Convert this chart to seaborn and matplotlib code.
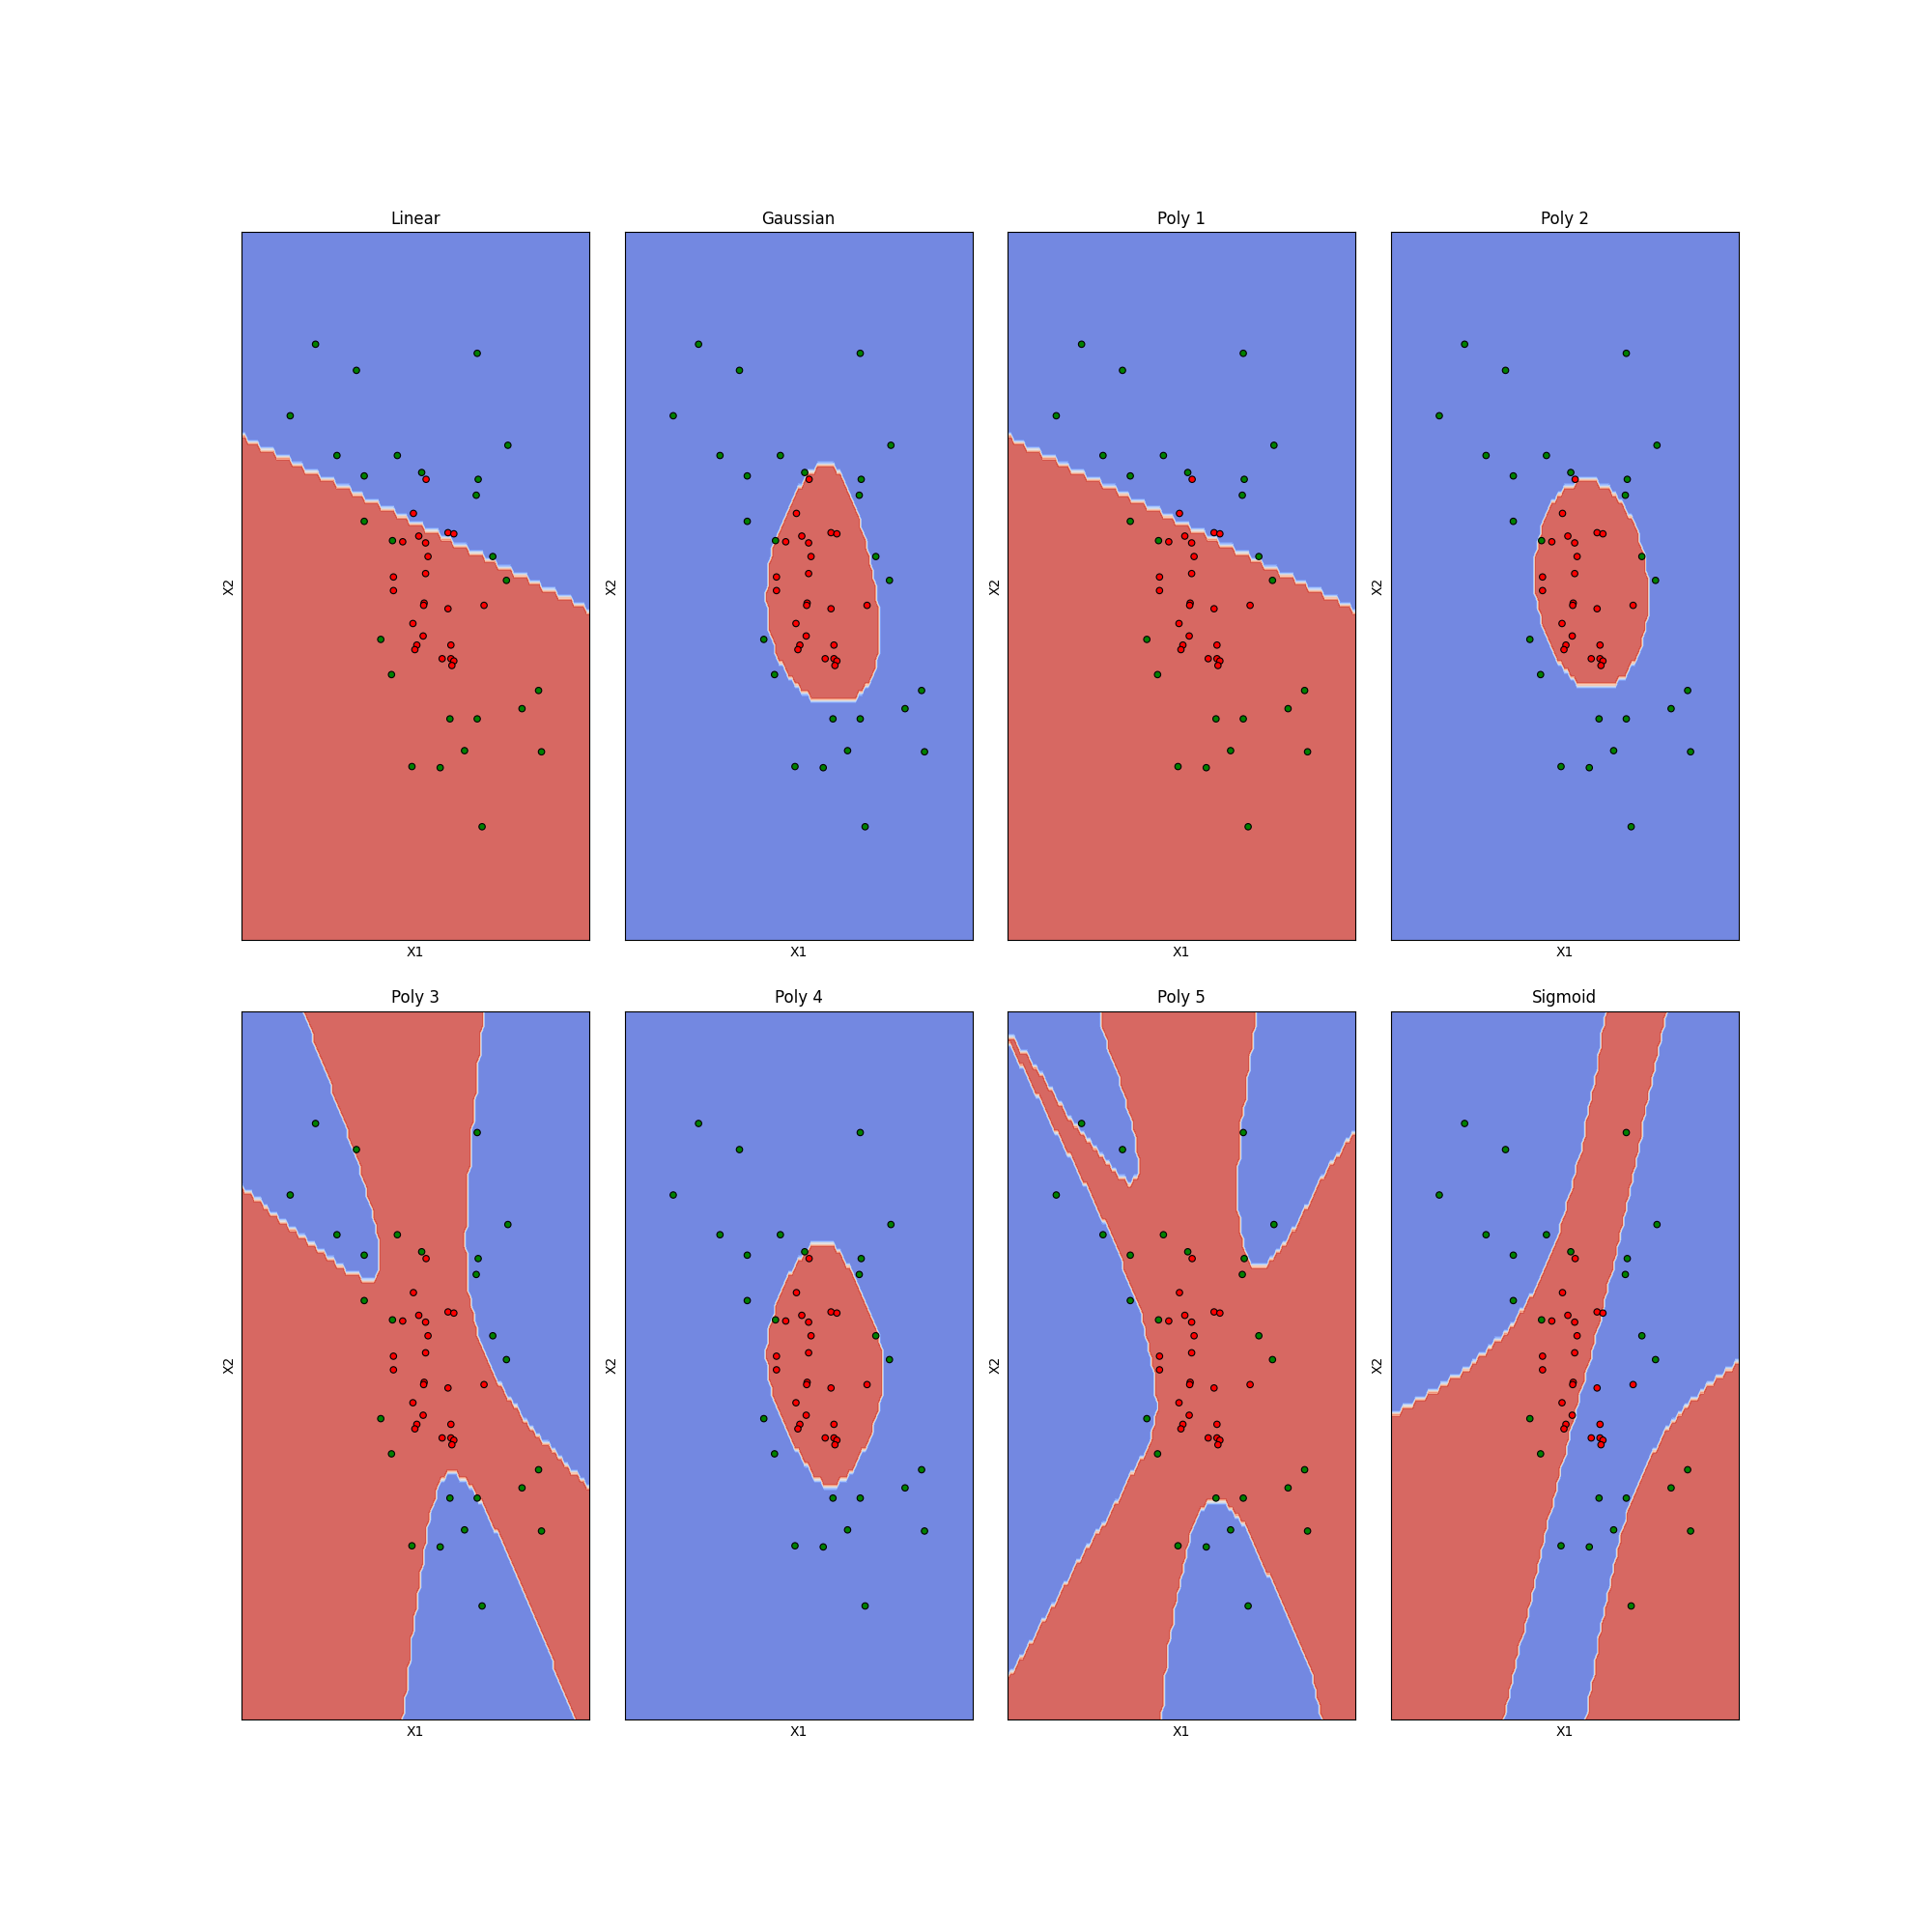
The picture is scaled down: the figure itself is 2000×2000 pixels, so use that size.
import numpy as np
import matplotlib
matplotlib.use("Agg")
import matplotlib.pyplot as plt
import seaborn as sns

# --- training points (X1, X2) ---
green_x1 = [-2.07, -1.23, 1.25, -2.59, -1.63, -0.39, 1.88, -1.07, 0.11, 1.27, 1.23, -1.07, -0.49,
            1.57, 1.85, -0.73, -0.51, 2.51, 2.17, 0.69, 1.25, 0.99, 2.57, -0.09, 0.49, 1.35]
green_x2 = [2.13, 1.90, 2.05, 1.50, 1.15, 1.15, 1.24, 0.97, 1.00, 0.94, 0.80, 0.57, 0.40,
            0.26, 0.05, -0.47, -0.78, -0.92, -1.08, -1.17, -1.17, -1.45, -1.46, -1.59, -1.60, -2.12]
red_x1 = [0.20, -0.06, 0.65, 0.77, 0.05, -0.28, 0.19, 0.24, 0.19, -0.47, -0.47, 0.16,
          0.15, 0.65, 1.39, -0.07, 0.14, 0.01, -0.03, 0.71, 0.53, 0.71, 0.77, 0.73]
red_x2 = [0.94, 0.64, 0.47, 0.46, 0.44, 0.39, 0.38, 0.26, 0.11, 0.08, -0.04, -0.15,
          -0.17, -0.20, -0.17, -0.33, -0.44, -0.52, -0.56, -0.52, -0.64, -0.64, -0.66, -0.70]

# --- decision boundaries (red class on the right of travel) ---
linear_x1 = [-3.6, 0.0, 3.6]
linear_x2 = [1.32, 0.55, -0.22]

gauss_x1 = [0.23, 0.77, 1.15, 1.30, 1.40, 1.47, 1.53, 1.67, 1.67, 1.53, 1.40, 1.07, 0.38, 0.07,
            -0.20, -0.50, -0.63, -0.67, -0.60, -0.50, -0.37, -0.13, 0.03]
gauss_x2 = [1.02, 1.00, 0.68, 0.48, 0.34, 0.10, -0.06, -0.34, -0.54, -0.70, -0.86, -1.00, -1.00, -0.90,
            -0.82, -0.54, -0.26, -0.12, 0.18, 0.38, 0.54, 0.74, 0.88]

poly2_x1 = [0.10, 0.77, 1.00, 1.20, 1.40, 1.59, 1.67, 1.67, 1.67, 1.57, 1.40, 1.27, 1.00, 0.37,
            0.00, -0.33, -0.50, -0.57, -0.60, -0.57, -0.47, -0.33, -0.13]
poly2_x2 = [0.88, 0.88, 0.82, 0.68, 0.50, 0.36, 0.22, -0.02, -0.34, -0.48, -0.62, -0.74, -0.88, -0.88,
            -0.74, -0.50, -0.34, -0.18, 0.02, 0.38, 0.54, 0.70, 0.82]

poly3_a_x1 = [-3.6, -3.2, -2.8, -2.4, -2.0, -1.6, -1.33, -0.83, -0.80, -0.80, -0.93, -1.07, -1.23,
              -1.47, -1.60, -1.83, -2.03, -2.27, -2.30]
poly3_a_x2 = [1.58, 1.46, 1.28, 1.14, 1.02, 0.90, 0.82, 0.82, 0.98, 1.18, 1.38, 1.62, 1.82,
              2.06, 2.28, 2.54, 2.78, 3.02, 3.14]
poly3_b_x1 = [1.39, 1.37, 1.23, 1.17, 1.13, 1.03, 1.01, 1.01, 1.13, 1.37, 1.73, 2.07, 2.40, 2.80, 3.20, 3.60]
poly3_b_x2 = [3.14, 2.86, 2.62, 2.30, 1.94, 1.54, 1.14, 0.74, 0.54, 0.18, -0.14, -0.38, -0.58, -0.78,
              -0.94, -1.08]
poly3_c_x1 = [3.27, 3.07, 2.73, 2.40, 2.07, 1.73, 1.40, 1.13, 0.97, 0.70, 0.47, 0.27, 0.13, 0.03,
              -0.07, -0.13, -0.20, -0.27]
poly3_c_x2 = [-3.14, -2.86, -2.54, -2.22, -1.90, -1.58, -1.26, -1.08, -0.99, -0.99, -1.14, -1.42,
              -1.66, -1.94, -2.22, -2.58, -2.86, -3.14]

poly4_x1 = [0.33, 0.53, 0.80, 1.17, 1.47, 1.67, 1.73, 1.63, 1.47, 1.27, 1.07, 0.80, 0.67, 0.53,
            0.30, 0.13, -0.07, -0.27, -0.47, -0.60, -0.67, -0.63, -0.53, -0.40, -0.27, 0.03, 0.20]
poly4_x2 = [1.08, 1.08, 0.98, 0.74, 0.46, 0.10, -0.14, -0.34, -0.58, -0.80, -0.92, -1.00, -1.06, -1.02,
            -1.00, -0.88, -0.70, -0.52, -0.38, -0.18, 0.10, 0.26, 0.42, 0.58, 0.74, 0.94, 1.02]

poly5_a_x1 = [-3.6, -3.27, -2.93, -2.60, -2.27, -1.93, -1.60, -1.27, -0.93, -0.93, -1.03, -1.20,
              -1.40, -1.60, -1.70]
poly5_a_x2 = [2.92, 2.76, 2.56, 2.36, 2.14, 1.98, 1.82, 1.66, 1.68, 1.88, 2.10, 2.38, 2.66, 2.90, 3.14]
poly5_b_x1 = [-3.6, -3.2, -2.8, -2.4, -1.93, -1.47, -1.07, -0.67, -0.53, -0.60, -0.80, -1.07, -1.27,
              -1.60, -1.93, -2.27, -2.60, -2.93, -3.27, -3.6]
poly5_b_x2 = [-2.76, -2.50, -2.22, -1.92, -1.58, -1.30, -0.98, -0.66, -0.34, -0.06, 0.38, 0.70, 0.94,
              1.26, 1.54, 1.82, 2.06, 2.34, 2.62, 2.84]
poly5_c_x1 = [1.53, 1.47, 1.37, 1.30, 1.20, 1.17, 1.10, 1.17, 1.27, 1.43, 1.73, 2.00, 2.27, 2.53,
              2.80, 3.20, 3.60]
poly5_c_x2 = [3.14, 2.90, 2.62, 2.34, 2.10, 1.86, 1.58, 1.26, 1.02, 0.90, 0.90, 1.02, 1.18, 1.38,
              1.60, 1.86, 2.10]
poly5_d_x1 = [2.87, 2.67, 2.40, 2.07, 1.73, 1.33, 1.07, 0.73, 0.53, 0.27, 0.07, -0.07, -0.20, -0.33, -0.43]
poly5_d_x2 = [-3.14, -2.74, -2.42, -2.10, -1.82, -1.46, -1.30, -1.18, -1.20, -1.38, -1.66, -1.98,
              -2.26, -2.66, -3.14]

sigmoid_a_x1 = [-3.6, -3.33, -2.93, -2.53, -2.13, -1.60, -1.27, -0.93, -0.67, -0.47, -0.27, -0.07,
                0.07, 0.20, 0.33, 0.40, 0.53, 0.67, 0.80, 0.87]
sigmoid_a_x2 = [-0.50, -0.38, -0.26, -0.14, 0.00, 0.18, 0.30, 0.42, 0.58, 0.66, 0.82, 0.98,
                1.22, 1.54, 1.86, 2.14, 2.42, 2.74, 2.98, 3.14]
sigmoid_b_x1 = [2.03, 1.93, 1.83, 1.70, 1.57, 1.40, 1.20, 1.00, 0.80, 0.60, 0.47, 0.33, 0.13, -0.07,
                -0.27, -0.47, -0.67, -0.80, -0.93, -1.07, -1.17]
sigmoid_b_x2 = [3.14, 2.82, 2.54, 2.22, 1.94, 1.58, 1.30, 0.98, 0.66, 0.34, 0.02, -0.30, -0.62, -0.86,
                -1.10, -1.46, -1.74, -2.14, -2.46, -2.78, -3.14]
sigmoid_c_x1 = [0.47, 0.57, 0.67, 0.80, 1.00, 1.13, 1.33, 1.67, 1.93, 2.20, 2.53, 2.87, 3.20, 3.60]
sigmoid_c_x2 = [-3.14, -2.78, -2.46, -2.10, -1.74, -1.38, -1.06, -0.78, -0.62, -0.46, -0.30, -0.22,
                -0.10, 0.02]

titles = ["Linear", "Gaussian", "Poly 1", "Poly 2", "Poly 3", "Poly 4", "Poly 5", "Sigmoid"]
# polynomial degree of the implicit fit; None -> thin-plate spline fit
degrees = [1, 4, 1, 2, 3, 4, None, 3]
offsets = [0.1, 0.1, 0.1, 0.1, 0.1, 0.1, 0.05, 0.1]
boundaries = [
    [(linear_x1, linear_x2)],
    [(gauss_x1, gauss_x2)],
    [(linear_x1, linear_x2)],
    [(poly2_x1, poly2_x2)],
    [(poly3_a_x1, poly3_a_x2), (poly3_b_x1, poly3_b_x2), (poly3_c_x1, poly3_c_x2)],
    [(poly4_x1, poly4_x2)],
    [(poly5_a_x1, poly5_a_x2), (poly5_b_x1, poly5_b_x2), (poly5_c_x1, poly5_c_x2),
     (poly5_d_x1, poly5_d_x2)],
    [(sigmoid_a_x1, sigmoid_a_x2), (sigmoid_b_x1, sigmoid_b_x2), (sigmoid_c_x1, sigmoid_c_x2)],
]


def monomials(u, v, deg):
    return np.stack([u ** i * v ** (k - i) for k in range(deg + 1) for i in range(k + 1)], axis=-1)


def constraints(branches, d):
    # boundary points (value 0) plus points pushed to each side (+ on the red side)
    px, py, t = [], [], []
    for bx, by in branches:
        bx, by = np.asarray(bx, float), np.asarray(by, float)
        tx, ty = np.gradient(bx), np.gradient(by)
        n = np.hypot(tx, ty)
        nx, ny = ty / n, -tx / n
        for s in (-1, 0, 1):
            px.append(bx + s * d * nx)
            py.append(by + s * d * ny)
            t.append(np.full(len(bx), s * d))
    return np.concatenate(px), np.concatenate(py), np.concatenate(t)


def tps(r):
    with np.errstate(divide="ignore", invalid="ignore"):
        out = r ** 2 * np.log(r)
    return np.nan_to_num(out)


def decision(branches, deg, d, gx, gy):
    cx, cy, t = constraints(branches, d)
    if deg is not None:
        coef = np.linalg.lstsq(monomials(cx / 3, cy / 3, deg), t, rcond=None)[0]
        return monomials(gx / 3, gy / 3, deg) @ coef
    K = tps(np.hypot(cx[:, None] - cx[None, :], cy[:, None] - cy[None, :]))
    P = np.column_stack([np.ones_like(cx), cx, cy])
    A = np.block([[K, P], [P.T, np.zeros((3, 3))]])
    sol = np.linalg.lstsq(A, np.concatenate([t, np.zeros(3)]), rcond=None)[0]
    w, a = sol[:-3], sol[-3:]
    G = tps(np.hypot(gx.ravel()[:, None] - cx[None, :], gy.ravel()[:, None] - cy[None, :]))
    return (G @ w + a[0] + a[1] * gx.ravel() + a[2] * gy.ravel()).reshape(gx.shape)


x1 = np.array(green_x1 + red_x1)
x2 = np.array(green_x2 + red_x2)
label = ["outer"] * len(green_x1) + ["inner"] * len(red_x1)

h = 0.065
x_min, x_max = x1.min() - 1, x1.max() + 1
y_min, y_max = x2.min() - 1, x2.max() + 1
xx, yy = np.meshgrid(np.arange(x_min, x_max, h), np.arange(y_min, y_max, h))

fig, axes = plt.subplots(2, 4, figsize=(20, 20))
plt.subplots_adjust(wspace=0.1, hspace=0.1)

for ax, title, deg, d, branches in zip(axes.flat, titles, degrees, offsets, boundaries):
    Z = (decision(branches, deg, d, xx, yy) > 0).astype(int)
    ax.contourf(xx, yy, Z, cmap=plt.cm.coolwarm, alpha=0.8)
    sns.scatterplot(x=x1, y=x2, hue=label, palette={"outer": "green", "inner": "red"},
                    edgecolor="k", linewidth=0.8, s=22, legend=False, ax=ax)
    ax.set_xlim(xx.min(), xx.max())
    ax.set_ylim(yy.min(), yy.max())
    ax.set_xticks([])
    ax.set_yticks([])
    ax.set_xlabel("X1")
    ax.set_ylabel("X2")
    ax.set_title(title)

plt.savefig("out.png", dpi=100)
